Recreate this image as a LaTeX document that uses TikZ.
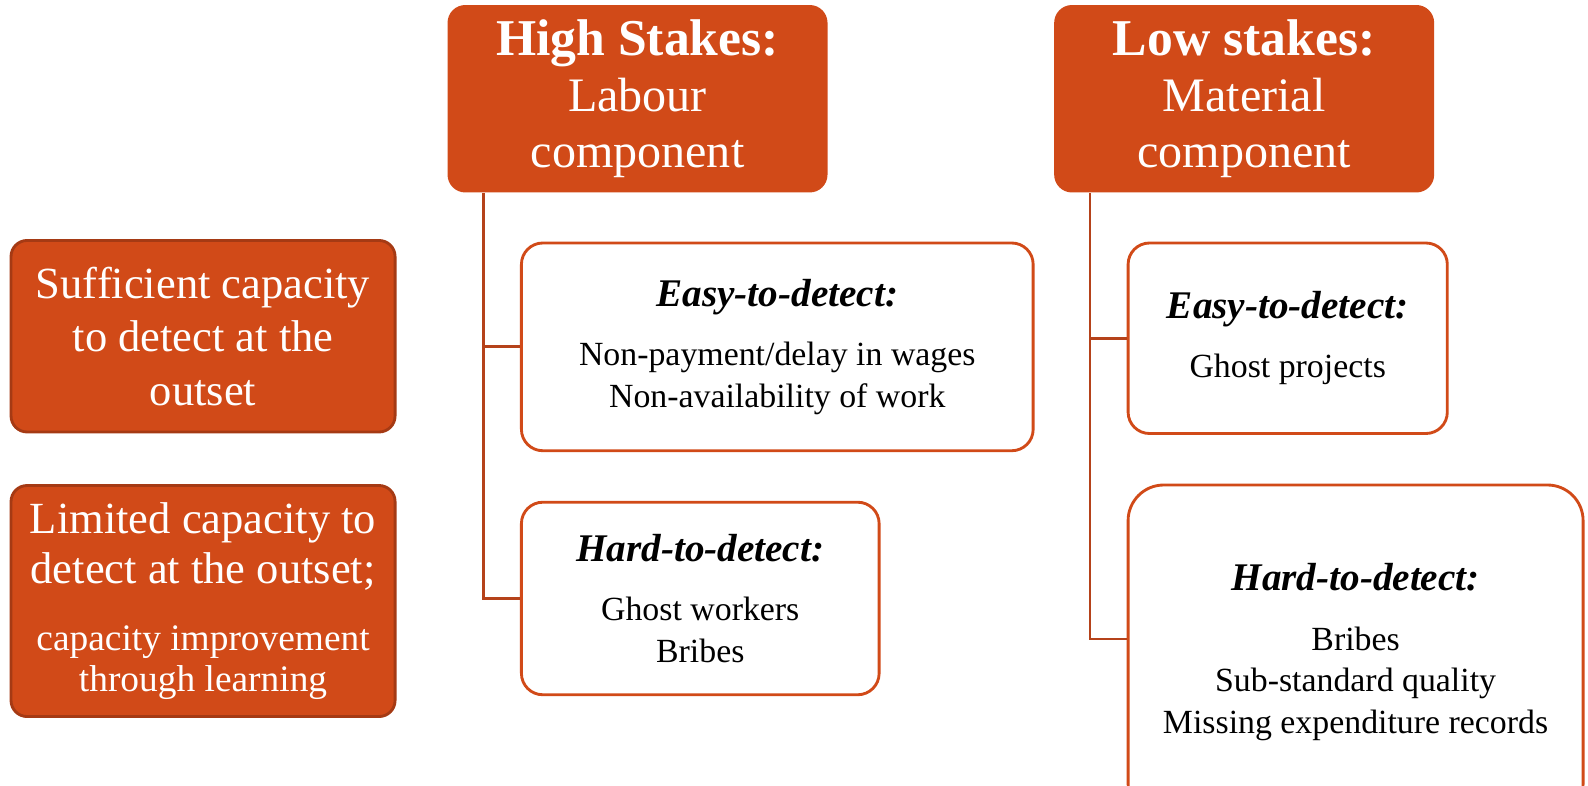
\documentclass[tikz,border=0pt]{standalone}
\usepackage{fontspec}
\setmainfont{Liberation Serif}
\usetikzlibrary{positioning}

\definecolor{rust}{RGB}{209,74,24}
\definecolor{rustdark}{RGB}{165,58,20}
\definecolor{rustline}{RGB}{181,66,26}

\newcommand{\leakhead}[1]{{\fontsize{11}{13}\selectfont\bfseries\itshape #1}}
\newcommand{\smallcap}[1]{{\fontsize{10.5}{11.4}\selectfont #1}}
\newcommand{\stakehead}[1]{{\fontsize{14.5}{15.6}\selectfont\bfseries #1}}

\begin{document}
\begin{tikzpicture}[x=0.01cm,y=-0.01cm,
	stake/.style={rectangle, rounded corners=5pt, fill=rust, text=white, align=center,
		minimum width=3.75cm, minimum height=1.85cm, font=\fontsize{13.5}{15.6}\selectfont},
	capacity/.style={rectangle, rounded corners=4.5pt, draw=rustdark, line width=0.8pt, fill=rust,
		text=white, align=center, minimum width=3.79cm, font=\fontsize{12.5}{15}\selectfont},
	leak/.style={rectangle, rounded corners=6pt, draw=rust, line width=0.8pt, fill=white,
		align=center, font=\fontsize{9.5}{11.7}\selectfont},
	branch/.style={draw=rustline, line width=0.8pt}]
	\clip (0,0) rectangle (1568,776);

	% capacity boxes on the left
	\node[capacity, minimum height=1.89cm] (suff) at (200.5,332)
		{Sufficient capacity\\to detect at the\\outset};
	\node[capacity, minimum height=2.28cm, font=\fontsize{12.5}{14}\selectfont] (lim) [below=0.5cm of suff]
		{Limited capacity to\\detect at the outset;\\[4.8pt]
		\smallcap{capacity improvement}\\[-2.6pt]\smallcap{through learning}};

	% stakes
	\node[stake] (high) at (629.5,97.5) {\stakehead{High Stakes:}\\Labour\\component};
	\node[stake] (low) at (1228.5,97.5) {\stakehead{Low stakes:}\\Material\\component};

	% leakages under each component
	\node[leak, minimum width=5.05cm, minimum height=2.05cm] (easyhigh) at (767.5,342.5)
		{\leakhead{Easy-to-detect:}\\[5pt]Non-payment/delay in wages\\Non-availability of work};
	\node[leak, minimum width=3.53cm, minimum height=1.9cm] (hardhigh)
		[below=0.48cm of easyhigh.south west, anchor=north west]
		{\leakhead{Hard-to-detect:}\\[5pt]Ghost workers\\Bribes};
	\node[leak, minimum width=3.15cm, minimum height=1.88cm] (easylow) at (1271.5,334)
		{\leakhead{Easy-to-detect:}\\[5pt]Ghost projects};
	\node[leak, rounded corners=10pt, minimum width=4.49cm, minimum height=3.3cm] (hardlow)
		[below=0.48cm of easylow.south west, anchor=north west]
		{\leakhead{Hard-to-detect:}\\[5pt]Bribes\\Sub-standard quality\\Missing expenditure records};

	\draw[branch] ([xshift=0.36cm]high.south west) |- (easyhigh.west);
	\draw[branch] ([xshift=0.36cm]high.south west) |- (hardhigh.west);
	\draw[branch] ([xshift=0.36cm]low.south west) |- (easylow.west);
	\draw[branch] ([xshift=0.36cm]low.south west) |- ([yshift=0.13cm]hardlow.west);
\end{tikzpicture}
\end{document}
